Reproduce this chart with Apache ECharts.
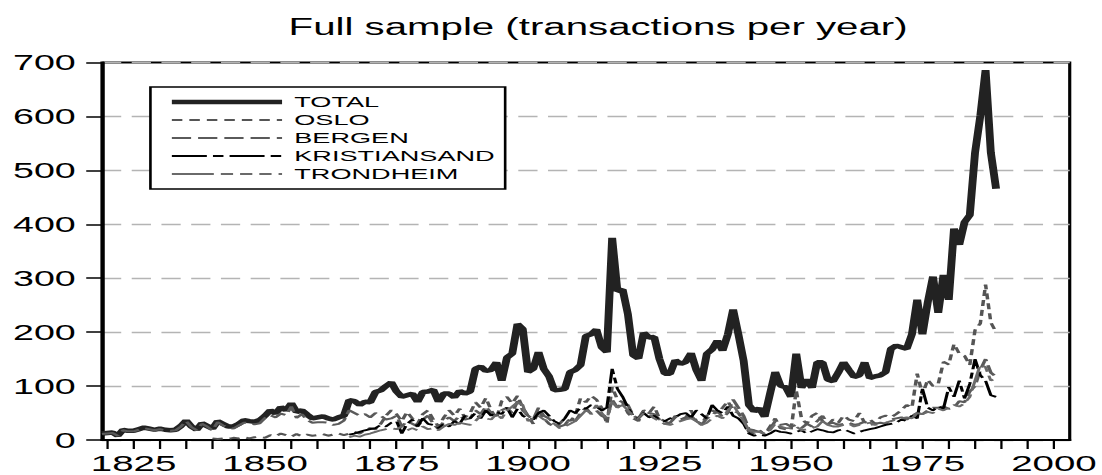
<!DOCTYPE html>
<html>
<head>
<meta charset="utf-8"/>
<title>Full sample (transactions per year)</title>
<script src="https://cdn.jsdelivr.net/npm/echarts@6/dist/echarts.min.js"></script>
<style>
  html, body { margin: 0; padding: 0; background: #fff; overflow: hidden; }
  #wrap { width: 1102px; height: 475px; overflow: hidden; }
  /* the original graph is a horizontally stretched picture, so the chart is drawn narrow and stretched */
  #chart { width: 630px; height: 475px; transform: scaleX(1.7492); transform-origin: 0 0; }
</style>
</head>
<body>
<div id="wrap"><div id="chart"></div></div>
<script>
var firstYear = 1819, lastYear = 2003;
var years = [];
for (var y = firstYear; y <= lastYear; y++) years.push(String(y));

var yTicks = [0, 100, 200, 300, 400, 500, 600, 700];

// TOTAL, 1819-1989
var total = [
  12,13,14,8,19,17,17,20,23,21,
  19,21,19,18,19,26,36,25,19,31,
  26,21,35,30,25,25,30,37,35,34,
  37,45,55,49,61,55,68,52,55,47,
  40,42,44,40,38,42,45,74,72,65,
  71,70,89,92,100,107,90,80,83,86,
  71,89,90,93,71,86,86,79,91,86,
  90,132,136,128,130,144,110,153,160,215,
  206,126,132,163,132,118,92,93,95,126,
  130,139,193,196,205,172,163,375,276,279,
  233,157,151,199,190,191,150,123,123,148,
  141,145,161,130,110,160,168,184,166,196,
  242,196,147,65,53,59,43,85,126,101,
  98,80,160,97,112,97,144,144,112,109,
  125,144,130,117,120,144,115,118,120,126,
  169,175,172,169,196,260,196,255,303,236,
  306,260,392,362,404,417,533,601,686,533,
  466
];

// OSLO, 1840-1989
var osloStart = 1840;
var oslo = [
  3,2,3,2,4,3,5,3,5,6,
  4,9,7,12,9,6,11,7,10,8,
  9,11,8,10,12,9,12,15,12,18,
  22,20,30,45,55,48,35,52,40,30,
  48,55,38,25,42,55,45,58,42,50,
  70,60,78,55,40,72,80,68,82,60,
  45,30,55,40,30,25,30,40,35,45,
  78,70,82,75,60,30,98,75,70,50,
  40,35,55,50,62,40,35,30,45,38,
  42,55,35,30,45,55,50,60,72,55,
  50,35,15,12,18,10,25,40,22,20,
  18,92,40,30,45,50,35,28,38,32,
  45,38,35,50,32,38,30,42,45,42,
  48,55,65,60,123,84,112,100,104,145,
  140,178,160,156,139,204,216,288,218,200
];

// BERGEN, 1819-1989
var bergenStart = 1819;
var bergen = [
  11,12,13,8,18,16,16,19,22,20,
  18,20,18,17,18,25,35,24,18,30,
  25,18,33,27,23,21,27,32,32,29,
  31,41,46,42,49,46,62,41,48,37,
  32,33,33,32,28,30,36,55,50,45,
  48,42,50,45,38,40,45,25,35,30,
  25,38,45,30,20,35,42,35,45,38,
  40,55,48,62,50,45,55,60,50,72,
  55,45,38,60,45,40,30,25,28,40,
  35,50,60,48,55,45,40,75,60,70,
  65,45,40,55,50,48,38,30,32,42,
  38,40,45,35,28,40,45,55,42,50,
  75,60,45,20,18,15,12,20,35,28,
  30,25,28,22,30,25,35,45,30,32,
  28,30,32,28,30,34,28,30,32,30,
  38,40,42,38,45,50,48,55,60,60,
  62,58,60,72,70,90,100,130,150,125,
  117
];

// KRISTIANSAND, 1866-1989
var kristStart = 1866;
var kristiansand = [
  10,12,15,18,
  20,22,28,25,32,35,12,30,38,25,
  40,30,28,22,30,25,35,30,45,40,
  50,40,55,45,52,48,60,42,58,45,
  40,38,50,55,45,35,30,40,55,50,
  60,58,65,62,55,60,132,95,80,60,
  45,40,50,42,45,38,35,40,42,48,
  50,42,55,48,40,65,55,50,62,45,
  40,30,12,8,10,8,12,18,15,14,
  12,15,18,12,16,20,18,15,14,18,
  20,16,12,15,18,20,22,25,28,30,
  32,38,35,45,40,95,60,55,62,58,
  98,80,110,77,104,150,120,110,83,80
];

// TRONDHEIM, 1866-1989
var trondStart = 1866;
var trondheim = [
  5,8,6,10,
  12,15,18,20,22,20,25,18,22,18,
  25,20,22,18,25,30,28,32,30,28,
  35,45,40,38,48,40,55,62,70,65,
  35,40,45,38,35,30,22,25,30,35,
  45,55,50,65,50,40,70,60,65,55,
  45,40,50,48,40,35,30,28,32,35,
  38,40,35,28,32,40,45,40,55,65,
  50,35,18,15,15,12,18,30,25,22,
  22,25,18,20,22,25,35,28,25,25,
  28,30,25,28,30,32,28,30,32,35,
  38,40,42,40,50,48,52,50,58,55,
  60,65,62,68,80,110,140,135,110,115
];

var seriesNames = ['TOTAL', 'OSLO', 'BERGEN', 'KRISTIANSAND', 'TRONDHEIM'];

function fromYear(start, values) {
  var out = [];
  for (var yr = firstYear; yr < start; yr++) out.push(null);
  return out.concat(values);
}

var font = "'Liberation Sans', Arial, Helvetica, sans-serif";

var styles = {
  TOTAL:        { color: '#222',    width: 4.5, dash: 'solid' },
  OSLO:         { color: '#555',    width: 2,   dash: [6, 4] },
  BERGEN:       { color: '#5a5a5a', width: 2,   dash: [11, 4] },
  KRISTIANSAND: { color: '#000',    width: 1.8, dash: [20, 3.5, 6, 3.5] },
  TRONDHEIM:    { color: '#6a6a6a', width: 1.8, dash: [24, 4, 7, 4, 7, 4, 7, 4] }
};

function lineSeries(name, data, z) {
  var s = styles[name];
  return {
    name: name,
    type: 'line',
    data: data,
    symbol: 'none',
    showSymbol: false,
    z: z,
    lineStyle: { color: s.color, width: s.width, type: s.dash },
    itemStyle: { color: s.color },
    emphasis: { disabled: true }
  };
}

var legendData = seriesNames.map(function (n) {
  var s = styles[n];
  return {
    name: n,
    itemStyle: { color: 'rgba(0,0,0,0)', borderWidth: 0, opacity: 0 },
    lineStyle: { color: s.color, width: s.width, type: s.dash, opacity: 1 }
  };
});

var chart = echarts.init(document.getElementById('chart'), null, { renderer: 'svg' });
chart.setOption({
  animation: false,
  backgroundColor: '#fff',
  title: {
    text: 'Full sample (transactions per year)',
    left: 165,
    top: 15,
    padding: 0,
    textStyle: { fontFamily: font, fontSize: 23, fontWeight: 'normal', color: '#000' }
  },
  legend: {
    orient: 'vertical',
    left: 86,
    top: 87,
    padding: [7, 6, 7, 10],
    itemWidth: 63,
    itemHeight: 12,
    itemGap: 2,
    borderColor: '#000',
    borderWidth: 1.5,
    backgroundColor: '#fff',
    data: legendData,
    itemStyle: { color: 'rgba(0,0,0,0)', borderWidth: 0, opacity: 0 },
    textStyle: { fontFamily: font, fontSize: 15.5, color: '#000', lineHeight: 15, padding: [0, 0, 0, 2] }
  },
  grid: {
    left: 58.3, right: 16.5, top: 62.5, bottom: 31.5,
    show: true, borderColor: '#000', borderWidth: 1.8,
    containLabel: false
  },
  xAxis: {
    type: 'category',
    data: years,
    boundaryGap: false,
    axisLine: { lineStyle: { color: '#000', width: 2 } },
    axisTick: {
      length: 9,
      lineStyle: { color: '#000', width: 1.3 },
      interval: function (i, v) { return Number(v) % 5 === 0; }
    },
    axisLabel: {
      interval: function (i, v) { return Number(v) % 25 === 0; },
      fontFamily: font, fontSize: 22, color: '#000', margin: 13
    },
    splitLine: { show: false }
  },
  yAxis: {
    type: 'value',
    min: yTicks[0],
    max: yTicks[yTicks.length - 1],
    interval: 100,
    axisLine: { show: true, lineStyle: { color: '#000', width: 1.8 } },
    axisTick: { show: true, length: 9, lineStyle: { color: '#000', width: 1.5 } },
    axisLabel: { fontFamily: font, fontSize: 21.5, color: '#000', margin: 15 },
    splitLine: { show: true, lineStyle: { color: '#b4b4b4', width: 1.3, type: [11, 6] } }
  },
  series: [
    lineSeries('TOTAL', fromYear(firstYear, total), 2),
    lineSeries('OSLO', fromYear(osloStart, oslo), 3),
    lineSeries('BERGEN', fromYear(bergenStart, bergen), 3),
    lineSeries('KRISTIANSAND', fromYear(kristStart, kristiansand), 3),
    lineSeries('TRONDHEIM', fromYear(trondStart, trondheim), 3)
  ]
});
</script>
</body>
</html>
